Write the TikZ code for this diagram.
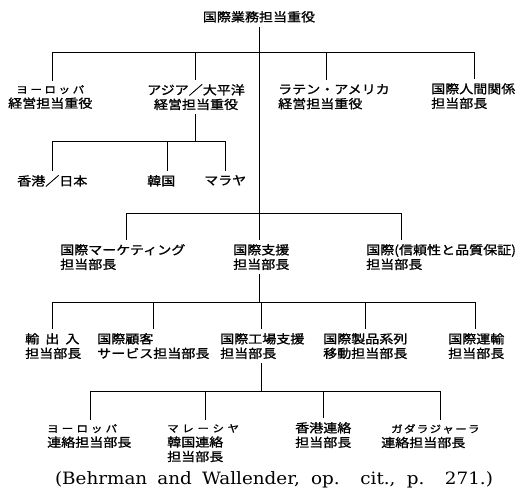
\documentclass[tikz,border=0pt]{standalone}
\usepackage{fontspec}
\newfontfamily\cjk[FakeStretch=1.15,FakeBold=1.2]{Noto Sans CJK JP}
\newfontfamily\capfont[FakeStretch=1.08]{DejaVu Serif}
\newcommand\sk[1]{{\fontsize{10}{14.5}\selectfont #1}}
\tikzset{
  lbl/.style={inner xsep=0pt, inner ysep=4pt, anchor=north west, align=left,
    font=\cjk\fontsize{12.2}{14.5}\selectfont},
  conn/.style={line width=0.8pt, black}
}
\begin{document}
\begin{tikzpicture}[x=1pt,y=-1pt]
\useasboundingbox (0,0) rectangle (526,493);
% nodes
\node[lbl, anchor=north, align=center] (T) at (259,7) {国際業務担当重役};
\node[lbl, align=center] (eu) at (8,81) {\sk{ヨ\kern2.6pt ー\kern2.6pt ロ\kern2.6pt ッ\kern2.6pt パ}\\経営担当重役};
\node[lbl, align=center] (asia) at (147,80) {アジア／大平洋\\経営担当重役};
\node[lbl] (latin) at (278,80) {ラテン・アメリカ\\経営担当重役};
\node[lbl] (hr) at (431,79) {国際人間関係\\担当部長};
\node[lbl] (hk) at (17,171) {香港／日本};
\node[lbl] (kr) at (147,171) {韓国};
\node[lbl] (my) at (204,171) {マラヤ};
\node[lbl] (mkt) at (60,240) {国際マーケティング\\担当部長};
\node[lbl] (sup) at (233,240) {国際支援\\担当部長};
\node[lbl] (qa) at (366,240) {国際(信頼性と品質保証)\\担当部長};
\node[lbl] (imp) at (25,329) {輸\hspace{0.5em}出\hspace{0.5em}入\\担当部長};
\node[lbl] (cs) at (97,329) {国際顧客\\サービス担当部長};
\node[lbl] (fac) at (220,329) {国際工場支援\\担当部長};
\node[lbl] (prod) at (323,329) {国際製品系列\\移動担当部長};
\node[lbl] (tr) at (448,329) {国際運輸\\担当部長};
\node[lbl] (eu2) at (47,420) {\sk{ヨ\kern3.1pt ー\kern3.1pt ロ\kern3.1pt ッ\kern3.1pt パ}\\連絡担当部長};
\node[lbl] (ml) at (167,420) {\sk{マ\kern3.6pt レ\kern3.6pt ー\kern3.6pt シ\kern3.6pt ヤ}\\韓国連絡\\担当部長};
\node[lbl] (hk2) at (295,418) {香港連絡\\担当部長};
\node[lbl] (gd) at (381,420) {\hspace*{10pt}\sk{ガ\kern1.3pt ダ\kern1.3pt ラ\kern1.3pt ジ\kern1.3pt ャ\kern1.3pt ー\kern1.3pt ラ}\\連絡担当部長};
\node[inner sep=0pt, font=\capfont\fontsize{17}{17}\selectfont] (cap) at (274,480)
  {\makebox[438pt][s]{(Behrman and Wallender, op. cit., p. 271.)}};
% bus 1
\foreach \n/\x in {eu/52, asia/195, latin/326, hr/474}{
  \coordinate (t-\n) at (\x,52);
  \draw[conn] (t-\n) -- (t-\n |- \n.north);
}
\draw[conn] (t-eu) -- (t-hr);
\draw[conn] (T.south) -- (T.south |- sup.north);
% bus 2
\foreach \n/\x in {hk/52, kr/167, my/225}{
  \coordinate (t-\n) at (\x,141);
  \draw[conn] (t-\n) -- (t-\n |- \n.north);
}
\draw[conn] (t-hk) -- (t-my);
\draw[conn] (asia.south -| t-asia) -- (t-asia |- t-hk);
% bus 3
\foreach \n/\x in {mkt/126, qa/401}{
  \coordinate (t-\n) at (\x,213);
  \draw[conn] (t-\n) -- (t-\n |- \n.north);
}
\draw[conn] (t-mkt) -- (t-qa);
% bus 4
\foreach \n/\x in {imp/52, cs/153, fac/261, prod/365, tr/475}{
  \coordinate (t-\n) at (\x,302);
  \draw[conn] (t-\n) -- (t-\n |- \n.north);
}
\draw[conn] (t-imp) -- (t-tr);
\draw[conn] (sup.south -| T.south) -- (T.south |- t-imp);
% bus 5
\foreach \n/\x in {eu2/90, ml/205, hk2/323, gd/440}{
  \coordinate (t-\n) at (\x,391);
  \draw[conn] (t-\n) -- (t-\n |- \n.north);
}
\draw[conn] (t-eu2) -- (t-gd);
\draw[conn] (fac.south -| t-fac) -- (t-fac |- t-eu2);
\end{tikzpicture}
\end{document}
